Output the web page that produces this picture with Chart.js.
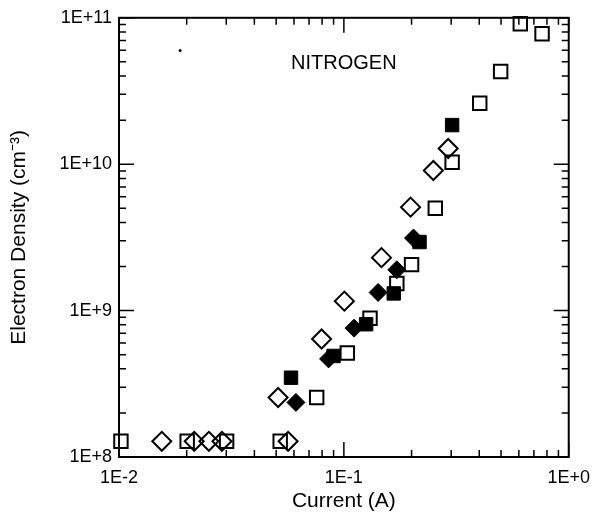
<!DOCTYPE html>
<html>
<head>
<meta charset="utf-8">
<script src="https://cdn.jsdelivr.net/npm/chart.js@4/dist/chart.umd.min.js"></script>
<style>
  html, body { margin: 0; padding: 0; background: #fff; }
  #wrap { width: 600px; height: 512px; }
</style>
</head>
<body>
<div id="wrap"><canvas id="plot"></canvas></div>
<script>
// values (current in A, density in cm^-3)
const openSquareX = [0.0102, 0.0201, 0.0301, 0.0521, 0.0757, 0.1036, 0.1307, 0.172, 0.2, 0.255, 0.303, 0.402, 0.498, 0.609, 0.761];
const openSquareY = [1.28e8, 1.28e8, 1.28e8, 1.28e8, 2.55e8, 5.14e8, 8.87e8, 1.53e9, 2.06e9, 5.0e9, 1.03e10, 2.61e10, 4.3e10, 9.1e10, 7.78e10];

const filledSquareX = [0.0582, 0.090, 0.1256, 0.1667, 0.217, 0.303];
const filledSquareY = [3.48e8, 4.9e8, 8.07e8, 1.31e9, 2.94e9, 1.85e10];

const filledDiamondX = [0.0612, 0.0855, 0.111, 0.142, 0.172, 0.204];
const filledDiamondY = [2.36e8, 4.68e8, 7.59e8, 1.33e9, 1.9e9, 3.13e9];

const openDiamondX = [0.0155, 0.0216, 0.0251, 0.0287, 0.0565, 0.051, 0.0796, 0.1005, 0.147, 0.198, 0.25, 0.291];
const openDiamondY = [1.28e8, 1.28e8, 1.28e8, 1.28e8, 1.28e8, 2.55e8, 6.4e8, 1.16e9, 2.3e9, 5.09e9, 9.06e9, 1.28e10];

// stray speck in the upper left of the original
const speckX = [0.0187];
const speckY = [5.97e10];

const xTickValues = [0.01, 0.1, 1];
const xTickLabels = ['1E-2', '1E-1', '1E+0'];
const yTickValues = [1e8, 1e9, 1e10, 1e11];
const yTickLabels = ['1E+8', '1E+9', '1E+10', '1E+11'];

const labelText = 'NITROGEN';
const labelAt = [0.1, 4.9e10];

const pts = (xs, ys) => xs.map((x, i) => ({ x: x, y: ys[i] }));

// inward tick marks on all four sides + frame + panel label
const framePlugin = {
    id: 'frame',
    afterDraw(chart) {
        const { ctx, chartArea: a, scales: { x, y } } = chart;
        ctx.save();
        ctx.strokeStyle = '#000';
        ctx.lineWidth = 1.5;
        ctx.beginPath();
        for (let e = -2; e <= 0; e++) {
            for (let m = 1; m < 10; m++) {
                const v = m * Math.pow(10, e);
                if (v > 1) break;
                const px = x.getPixelForValue(v);
                const len = m === 1 ? 15 : 7;
                ctx.moveTo(px, a.bottom); ctx.lineTo(px, a.bottom - len);
                ctx.moveTo(px, a.top); ctx.lineTo(px, a.top + len);
            }
        }
        for (let e = 8; e <= 11; e++) {
            for (let m = 1; m < 10; m++) {
                const v = m * Math.pow(10, e);
                if (v > 1e11) break;
                const py = y.getPixelForValue(v);
                const len = m === 1 ? 15 : 7;
                ctx.moveTo(a.left, py); ctx.lineTo(a.left + len, py);
                ctx.moveTo(a.right, py); ctx.lineTo(a.right - len, py);
            }
        }
        ctx.stroke();
        ctx.lineWidth = 2;
        ctx.strokeRect(a.left, a.top, a.right - a.left, a.bottom - a.top);

        ctx.fillStyle = '#000';
        ctx.font = '20px "Liberation Sans", Arial, sans-serif';
        ctx.textAlign = 'center';
        ctx.textBaseline = 'middle';
        ctx.fillText(labelText, x.getPixelForValue(labelAt[0]), y.getPixelForValue(labelAt[1]));
        ctx.restore();
    }
};

const tickFont = { family: '"Liberation Sans", Arial, sans-serif', size: 18 };
const titleFont = { family: '"Liberation Sans", Arial, sans-serif', size: 21, lineHeight: 1 };

new Chart(document.getElementById('plot'), {
    type: 'scatter',
    data: {
        datasets: [
            {
                label: 'filled squares',
                data: pts(filledSquareX, filledSquareY),
                pointStyle: 'rect', pointRadius: 9.5,
                backgroundColor: '#000', borderColor: '#000', borderWidth: 1, clip: false
            },
            {
                label: 'filled diamonds',
                data: pts(filledDiamondX, filledDiamondY),
                pointStyle: 'rectRot', pointRadius: 9,
                backgroundColor: '#000', borderColor: '#000', borderWidth: 1, clip: false
            },
            {
                label: 'open squares',
                data: pts(openSquareX, openSquareY),
                pointStyle: 'rect', pointRadius: 9.5,
                backgroundColor: 'rgba(255,255,255,0)', borderColor: '#000', borderWidth: 2, clip: false
            },
            {
                label: 'open diamonds',
                data: pts(openDiamondX, openDiamondY),
                pointStyle: 'rectRot', pointRadius: 9.5,
                backgroundColor: 'rgba(255,255,255,0)', borderColor: '#000', borderWidth: 2, clip: false
            },
            {
                label: 'speck',
                data: pts(speckX, speckY),
                pointStyle: 'circle', pointRadius: 1.5,
                backgroundColor: '#000', borderColor: '#000', borderWidth: 0
            }
        ]
    },
    options: {
        responsive: true,
        maintainAspectRatio: false,
        animation: false,
        layout: { padding: { top: 14, right: 26, left: 0, bottom: 0 } },
        plugins: {
            legend: { display: false },
            tooltip: { enabled: false }
        },
        scales: {
            x: {
                type: 'logarithmic',
                min: 0.01, max: 1,
                grid: { display: false, drawTicks: false },
                border: { display: false },
                afterBuildTicks: (s) => { s.ticks = xTickValues.map(v => ({ value: v, major: true })); },
                afterFit: (s) => { s.height = 55; },
                ticks: {
                    color: '#000', font: tickFont, padding: 10, maxRotation: 0, autoSkip: false,
                    callback: (v) => xTickLabels[xTickValues.indexOf(v)]
                },
                title: { display: true, text: 'Current (A)', color: '#000', font: titleFont, padding: { top: 0, bottom: 0 } }
            },
            y: {
                type: 'logarithmic',
                min: 1e8, max: 1e11,
                grid: { display: false, drawTicks: false },
                border: { display: false },
                afterBuildTicks: (s) => { s.ticks = yTickValues.map(v => ({ value: v, major: true })); },
                afterFit: (s) => { s.width = 119; },
                ticks: {
                    color: '#000', font: tickFont, padding: 7, autoSkip: false,
                    callback: (v) => yTickLabels[yTickValues.indexOf(v)]
                },
                title: { display: true, text: 'Electron Density (cm\u207B\u00B3)', color: '#000', font: titleFont, padding: { top: 9, bottom: 0 } }
            }
        }
    },
    plugins: [framePlugin]
});
</script>
</body>
</html>
